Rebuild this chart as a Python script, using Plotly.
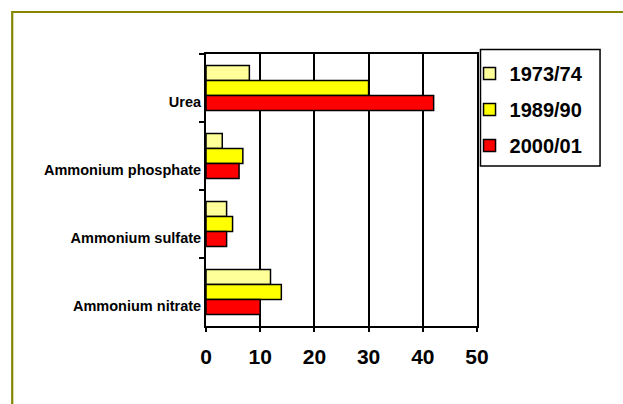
import plotly.graph_objects as go

# Fertilizer products (top to bottom) and their shares per season
products = ["Urea", "Ammonium phosphate", "Ammonium sulfate", "Ammonium nitrate"]
seasons = ["1973/74", "1989/90", "2000/01"]
share_1973 = [8, 3, 3.8, 11.9]
share_1989 = [30, 6.8, 4.9, 13.9]
share_2000 = [42, 6.1, 3.8, 10]
x_ticks = [0, 10, 20, 30, 40, 50]

series = [share_1973, share_1989, share_2000]
colors = ["#FFFF99", "#FFFF00", "#FF0000"]

W, H = 623, 404
ML, MR, MT, MB = 205.5, 145.5, 54, 78
PW, PH = W - ML - MR, H - MT - MB

FONT = "Arial, Liberation Sans, sans-serif"

fig = go.Figure()
for name, vals, col in zip(seasons, series, colors):
    fig.add_trace(go.Bar(
        y=products, x=vals, name=name, orientation="h",
        marker=dict(color=col, line=dict(color="black", width=1.5)),
        legendgroup=name,
    ))


def px_x(p):
    return (p - ML) / PW


def px_y(p):
    return 1 - (p - MT) / PH


# olive frame along the top and left edges of the page, plus the legend box
frame = "#858500"
shapes = [
    dict(type="line", xref="paper", yref="paper",
         x0=px_x(11), x1=px_x(640), y0=px_y(12), y1=px_y(12),
         line=dict(color=frame, width=2.2)),
    dict(type="line", xref="paper", yref="paper",
         x0=px_x(11), x1=px_x(11), y0=px_y(11), y1=px_y(420),
         line=dict(color=frame, width=2.2)),
    dict(type="rect", xref="paper", yref="paper",
         x0=px_x(481), x1=px_x(601), y0=px_y(49.5), y1=px_y(166),
         line=dict(color="black", width=1.5), fillcolor="rgba(0,0,0,0)"),
]

fig.update_layout(
    width=W, height=H,
    margin=dict(l=ML, r=MR, t=MT, b=MB, pad=0),
    paper_bgcolor="white", plot_bgcolor="white",
    barmode="group", bargap=0.34, bargroupgap=0,
    shapes=shapes,
    font=dict(family=FONT, color="black"),
    legend=dict(
        x=px_x(470), y=px_y(54), xanchor="left", yanchor="top",
        borderwidth=0, bgcolor="rgba(0,0,0,0)",
        font=dict(family=FONT, size=20, color="black", weight="bold"),
        traceorder="grouped", tracegroupgap=7,
        itemwidth=30,
    ),
    xaxis=dict(
        range=[0, 50], tickvals=x_ticks,
        showgrid=True, gridcolor="black", gridwidth=1.5,
        showline=True, linecolor="black", linewidth=2, mirror=True,
        ticks="outside", ticklen=4, tickwidth=1.5, tickcolor="black",
        tickfont=dict(family=FONT, size=21, color="black", weight="bold"),
        ticklabelstandoff=7,
        zeroline=False, fixedrange=True,
    ),
    yaxis=dict(
        categoryorder="array", categoryarray=products,
        autorange="reversed",
        showgrid=False,
        showline=True, linecolor="black", linewidth=2, mirror=True,
        ticks="outside", ticklen=5, tickwidth=1.5, tickcolor="black",
        tickson="boundaries",
        tickfont=dict(family=FONT, size=14.5, color="black", weight="bold"),
        ticklabelshift=-14,
        fixedrange=True,
    ),
)

fig.write_html("out.html")
